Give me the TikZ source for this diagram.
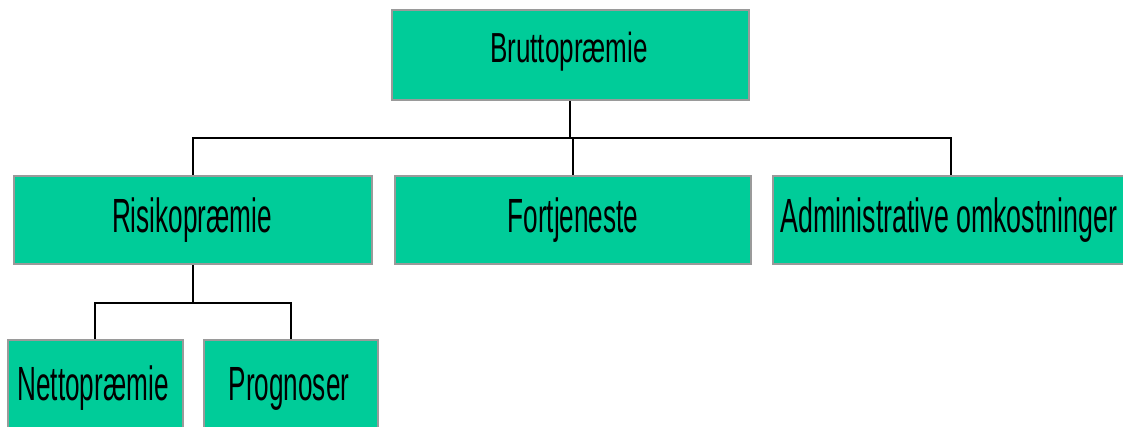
\documentclass[tikz,border=0pt]{standalone}
\usepackage{fontspec}
\setmainfont{Liberation Sans}
\usepackage{graphicx}
\usetikzlibrary{calc}
\definecolor{boxfill}{HTML}{00CC99}
\definecolor{boxline}{HTML}{9A9A9A}
\tikzset{
  box/.style={draw=boxline, line width=2pt, fill=boxfill, rectangle, inner sep=0pt},
  lbl/.style={anchor=base, inner sep=0pt, font=\fontsize{48}{50}\selectfont},
  toplbl/.style={anchor=base, inner sep=0pt, font=\fontsize{42}{44}\selectfont},
  conn/.style={draw=black, line width=2pt}
}
\begin{document}
\begin{tikzpicture}[x=1pt,y=-1pt]
\useasboundingbox (0,0) rectangle (1123,427);
\clip (0,0) rectangle (1123,427);
\fill[white] (0,0) rectangle (1123,427);
% boxes
\node[box, minimum width=357pt, minimum height=90pt] (top) at (570,55) {};
\node[box, minimum width=358pt, minimum height=88pt] (risk) at (193,220) {};
\node[box, minimum width=356pt, minimum height=88pt] (fort) at (573,220) {};
\node[box, minimum width=370pt, minimum height=88pt] (adm) at (958,220) {};
\node[box, minimum width=175pt, minimum height=100pt] (netto) at (95,390) {};
\node[box, minimum width=174pt, minimum height=100pt] (prog) at (291,390) {};
% labels
\node[toplbl] (topt) at (569,63) {\scalebox{0.62}[1]{Bruttopræmie}};
\node[lbl] (riskt) at (192,233) {\scalebox{0.545}[1]{Risikopræmie}};
\node[lbl] (fortt) at (573,233) {\scalebox{0.545}[1]{Fortjeneste}};
\node[lbl] (admt) at (949,233) {\scalebox{0.558}[1]{Administrative omkostninger}};
\node[lbl] (nettot) at (93,400) {\scalebox{0.545}[1]{Nettopræmie}};
\node[lbl] (progt) at (289,400) {\scalebox{0.545}[1]{Prognoser}};
% connectors
\coordinate (j1) at ($(top.south)+(0,37)$);
\coordinate (admin) at ($(adm.north)+(-7,0)$);
\draw[conn] (top.south) -- (j1);
\draw[conn] (risk.north) |- (j1);
\draw[conn] (admin) |- (j1);
\draw[conn] (fort.north) -- (fort.north |- j1);
\coordinate (j2) at ($(risk.south)+(0,38)$);
\draw[conn] (risk.south) -- (j2);
\draw[conn] (netto.north) |- (j2);
\draw[conn] (prog.north) |- (j2);
\end{tikzpicture}
\end{document}
